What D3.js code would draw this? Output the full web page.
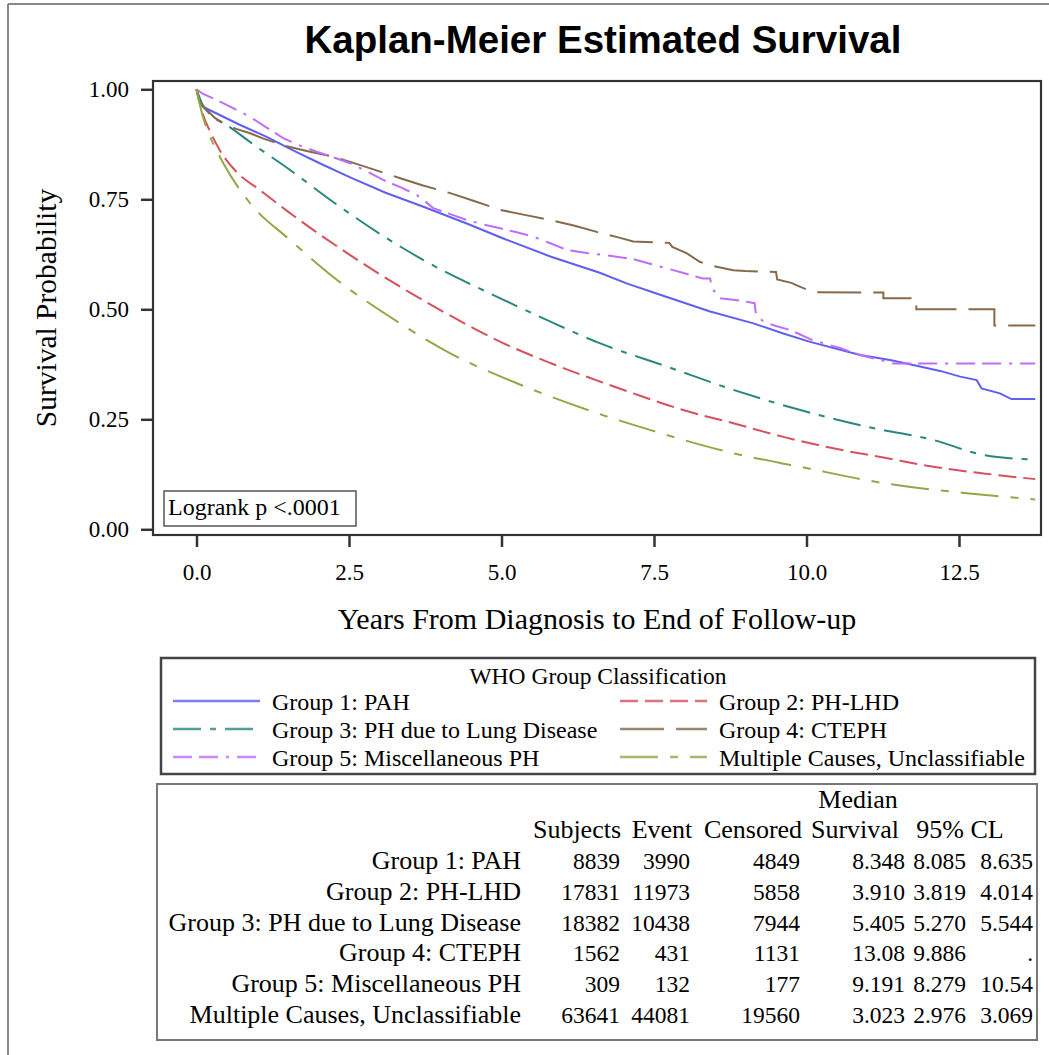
<!DOCTYPE html>
<html>
<head>
<meta charset="utf-8">
<script src="https://cdn.jsdelivr.net/npm/d3@7"></script>
<style>
  html, body { margin: 0; padding: 0; background: #fff; }
  svg { display: block; }
  .serif { font-family: "Liberation Serif", "Times New Roman", serif; fill: #000; }
</style>
</head>
<body>
<script>
// ---------------- DATA ----------------
const groupNames = ["Group 1: PAH", "Group 2: PH-LHD", "Group 3: PH due to Lung Disease",
                    "Group 4: CTEPH", "Group 5: Miscellaneous PH", "Multiple Causes, Unclassifiable"];

// Kaplan-Meier curves (years, survival probability)
const g1Time = [0, 0.05, 0.11, 0.33, 0.7, 1.15, 1.6, 2.08, 2.52, 3.1, 3.72, 4.43, 5.03, 5.8, 6.61, 7.05, 7.54, 8.42, 9.13, 9.62, 10.06, 10.88, 11.37, 11.86, 12.19, 12.52, 12.79, 12.87, 13.17, 13.36, 13.75];
const g1Surv = [1, 0.975, 0.96, 0.945, 0.92, 0.892, 0.86, 0.828, 0.80, 0.765, 0.733, 0.695, 0.661, 0.62, 0.583, 0.559, 0.536, 0.495, 0.468, 0.445, 0.426, 0.396, 0.385, 0.37, 0.36, 0.347, 0.339, 0.32, 0.309, 0.296, 0.296];

const g2Time = [0, 0.1, 0.22, 0.38, 0.71, 1.0, 1.5, 2.0, 2.5, 3.0, 3.5, 3.91, 4.5, 5.0, 5.8, 6.61, 7.16, 7.98, 8.8, 9.62, 10.44, 11.26, 12.08, 12.9, 13.75];
const g2Surv = [1, 0.945, 0.905, 0.862, 0.805, 0.775, 0.722, 0.672, 0.625, 0.58, 0.538, 0.505, 0.46, 0.425, 0.378, 0.336, 0.309, 0.271, 0.241, 0.21, 0.184, 0.163, 0.142, 0.127, 0.114];

const g3Time = [0, 0.1, 0.25, 0.49, 1.0, 1.5, 2.3, 3.0, 3.77, 4.98, 5.74, 6.61, 7.71, 8.8, 9.9, 10.99, 12.08, 12.9, 13.39, 13.75];
const g3Surv = [1, 0.965, 0.94, 0.919, 0.868, 0.82, 0.738, 0.672, 0.608, 0.525, 0.476, 0.423, 0.37, 0.317, 0.271, 0.233, 0.203, 0.169, 0.161, 0.159];

const g4Time = [0, 0.03, 0.08, 0.17, 0.3, 0.44, 0.65, 0.88, 1.1, 1.42, 1.65, 1.86, 2.2, 2.52, 2.9, 3.34, 3.7, 4.16, 4.55, 4.98, 5.4, 5.8, 6.2, 6.56, 6.9, 7.16, 7.75, 7.8, 8.04, 8.25, 8.42, 8.8, 9.0, 9.5, 9.52, 9.75, 9.9, 10.11, 11.26, 11.26, 11.8, 11.8, 13.08, 13.08, 13.75];
const g4Surv = [1, 0.98, 0.965, 0.953, 0.935, 0.923, 0.91, 0.90, 0.888, 0.873, 0.865, 0.858, 0.848, 0.835, 0.818, 0.798, 0.782, 0.764, 0.746, 0.726, 0.714, 0.703, 0.69, 0.676, 0.664, 0.654, 0.651, 0.642, 0.627, 0.608, 0.60, 0.589, 0.587, 0.585, 0.568, 0.56, 0.551, 0.539, 0.538, 0.525, 0.525, 0.50, 0.50, 0.463, 0.463];

const g5Time = [0, 0.1, 0.33, 0.6, 0.87, 1.15, 1.42, 1.7, 1.97, 2.25, 2.52, 2.8, 3.06, 3.35, 3.61, 3.75, 3.88, 4.15, 4.43, 4.7, 4.98, 5.25, 5.52, 5.8, 6.07, 6.4, 6.72, 7.16, 7.45, 7.71, 8.0, 8.3, 8.42, 8.45, 8.58, 8.9, 9.15, 9.17, 9.29, 9.5, 9.73, 10.1, 10.55, 10.88, 11.2, 11.42, 13.75];
const g5Surv = [1, 0.99, 0.976, 0.957, 0.938, 0.913, 0.889, 0.872, 0.858, 0.845, 0.832, 0.813, 0.794, 0.777, 0.76, 0.745, 0.73, 0.717, 0.703, 0.693, 0.684, 0.675, 0.665, 0.65, 0.635, 0.628, 0.623, 0.614, 0.603, 0.593, 0.582, 0.57, 0.57, 0.548, 0.525, 0.52, 0.514, 0.49, 0.472, 0.462, 0.453, 0.43, 0.412, 0.396, 0.385, 0.377, 0.377];

const g6Time = [0, 0.1, 0.2, 0.44, 0.88, 1.53, 2.3, 3.17, 4.16, 5.25, 6.5, 7.43, 8.8, 9.9, 11.26, 12.63, 13.75];
const g6Surv = [1, 0.94, 0.9, 0.832, 0.741, 0.658, 0.567, 0.483, 0.40, 0.332, 0.267, 0.226, 0.173, 0.142, 0.105, 0.082, 0.068];

// table
const subjects = [8839, 17831, 18382, 1562, 309, 63641];
const events = [3990, 11973, 10438, 431, 132, 44081];
const censored = [4849, 5858, 7944, 1131, 177, 19560];
const medianSurv = ["8.348", "3.910", "5.405", "13.08", "9.191", "3.023"];
const lowerCL = ["8.085", "3.819", "5.270", "9.886", "8.279", "2.976"];
const upperCL = ["8.635", "4.014", "5.544", ".", "10.54", "3.069"];

const xTicks = [0, 2.5, 5, 7.5, 10, 12.5];
const yTicks = [0, 0.25, 0.5, 0.75, 1];

// ---------------- STYLES ----------------
const series = [
  {name: groupNames[0], t: g1Time, s: g1Surv, color: "#5f5ff2", dash: null, smooth: false},
  {name: groupNames[1], t: g2Time, s: g2Surv, color: "#d6505f", dash: "18,7", smooth: true},
  {name: groupNames[2], t: g3Time, s: g3Surv, color: "#2a877d", dash: "28,9,6,9", smooth: true},
  {name: groupNames[3], t: g4Time, s: g4Surv, color: "#87694b", dash: "44,12", smooth: false},
  {name: groupNames[4], t: g5Time, s: g5Surv, color: "#be6ef5", dash: "19,7,19,8,3,8", smooth: false},
  {name: groupNames[5], t: g6Time, s: g6Surv, color: "#96a546", dash: "38,12,8,12", smooth: true}
];

const W = 1049, H = 1055;
const svg = d3.select("body").append("svg").attr("width", W).attr("height", H);

// outer page frame (top & left visible)
svg.append("line").attr("x1", 8).attr("y1", 4).attr("x2", W).attr("y2", 4).attr("stroke", "#888").attr("stroke-width", 2);
svg.append("line").attr("x1", 8).attr("y1", 4).attr("x2", 8).attr("y2", H).attr("stroke", "#888").attr("stroke-width", 2);

// title
svg.append("text").attr("x", 603).attr("y", 53).attr("text-anchor", "middle")
  .style("font-family", "'Liberation Sans', Arial, sans-serif").style("font-weight", "bold")
  .style("font-size", "38.5px").text("Kaplan-Meier Estimated Survival");

// plot area
const P = {l: 153, t: 81, r: 1041, b: 535};
const x = d3.scaleLinear().domain([0, 12.5]).range([196.5, 959]);
const y = d3.scaleLinear().domain([0, 1]).range([529.3, 89.3]);

svg.append("clipPath").attr("id", "clip").append("rect")
  .attr("x", P.l).attr("y", P.t).attr("width", P.r - P.l).attr("height", P.b - P.t);

const gCurves = svg.append("g").attr("clip-path", "url(#clip)");
series.forEach(sr => {
  const pts = sr.t.map((t, i) => [t, sr.s[i]]);
  const line = d3.line().x(d => x(d[0])).y(d => y(d[1]))
    .curve(sr.smooth ? d3.curveMonotoneX : d3.curveLinear);
  gCurves.append("path").attr("d", line(pts)).attr("fill", "none")
    .attr("stroke", sr.color).attr("stroke-width", 2)
    .attr("stroke-dasharray", sr.dash);
});

// frame
svg.append("rect").attr("x", P.l).attr("y", P.t).attr("width", P.r - P.l).attr("height", P.b - P.t)
  .attr("fill", "none").attr("stroke", "#333").attr("stroke-width", 2.2);

// axes
const yAxis = d3.axisLeft(y).tickValues(yTicks).tickFormat(d3.format(".2f")).tickSize(12).tickPadding(12).tickSizeOuter(0);
const gy = svg.append("g").attr("transform", `translate(${P.l},0)`).call(yAxis);
gy.select(".domain").remove();
gy.selectAll(".tick line").attr("stroke", "#333").attr("stroke-width", 2.5);
gy.selectAll(".tick text").attr("class", "serif").style("font-size", "23px").attr("dy", "0.33em");

const xAxis = d3.axisBottom(x).tickValues(xTicks).tickFormat(d3.format(".1f")).tickSize(12).tickSizeOuter(0);
const gx = svg.append("g").attr("transform", `translate(0,${P.b})`).call(xAxis);
gx.select(".domain").remove();
gx.selectAll(".tick line").attr("stroke", "#333").attr("stroke-width", 2.5);
gx.selectAll(".tick text").attr("class", "serif").style("font-size", "23px").attr("y", 45).attr("dy", null);

// axis labels
svg.append("text").attr("class", "serif").attr("x", 597).attr("y", 629).attr("text-anchor", "middle")
  .style("font-size", "30px").text("Years From Diagnosis to End of Follow-up");
svg.append("text").attr("class", "serif").attr("transform", "translate(56,308) rotate(-90)")
  .attr("text-anchor", "middle").style("font-size", "29.5px").text("Survival Probability");

// logrank inset
svg.append("rect").attr("x", 164).attr("y", 491).attr("width", 192).attr("height", 35)
  .attr("fill", "#fff").attr("stroke", "#555").attr("stroke-width", 1.5);
svg.append("text").attr("class", "serif").attr("x", 168).attr("y", 515).style("font-size", "24px")
  .text("Logrank p <.0001");

// legend
const L = svg.append("g");
L.append("rect").attr("x", 161).attr("y", 658).attr("width", 874).attr("height", 116)
  .attr("fill", "#fff").attr("stroke", "#444").attr("stroke-width", 2.5);
L.append("text").attr("class", "serif").attr("x", 598).attr("y", 684).attr("text-anchor", "middle")
  .style("font-size", "23.5px").text("WHO Group Classification");
series.forEach((sr, i) => {
  const col = i % 2, row = Math.floor(i / 2);
  const lx = col === 0 ? 173 : 620;
  const ly = 701 + row * 28;
  L.append("line").attr("x1", lx).attr("x2", lx + 87).attr("y1", ly).attr("y2", ly)
    .attr("stroke", sr.color).attr("stroke-width", 2.5).attr("stroke-dasharray", sr.dash).attr("opacity", 0.8);
  L.append("text").attr("class", "serif").attr("x", lx + 99).attr("y", ly + 9)
    .style("font-size", "24px").text(sr.name);
});

// table
const T = svg.append("g");
T.append("rect").attr("x", 157).attr("y", 784).attr("width", 880).attr("height", 256)
  .attr("fill", "#fff").attr("stroke", "#777").attr("stroke-width", 2);
const fsText = "26px", fsNum = "23.5px";
const hdr = (txt, cx, yy) => T.append("text").attr("class", "serif").attr("x", cx).attr("y", yy)
  .attr("text-anchor", "middle").style("font-size", fsText).text(txt);
hdr("Median", 858, 808);
hdr("Subjects", 577, 838);
hdr("Event", 662, 838);
hdr("Censored", 753, 838);
hdr("Survival", 855, 838);
hdr("95% CL", 960, 838);

const colRight = [521, 620, 690, 800, 905, 966, 1033];
groupNames.forEach((g, i) => {
  const yy = 869 + i * 30.8;
  const vals = [g, subjects[i], events[i], censored[i], medianSurv[i], lowerCL[i], upperCL[i]];
  vals.forEach((v, j) => {
    T.append("text").attr("class", "serif").attr("x", colRight[j]).attr("y", yy)
      .attr("text-anchor", "end").style("font-size", j === 0 ? fsText : fsNum).text(v);
  });
});
</script>
</body>
</html>
